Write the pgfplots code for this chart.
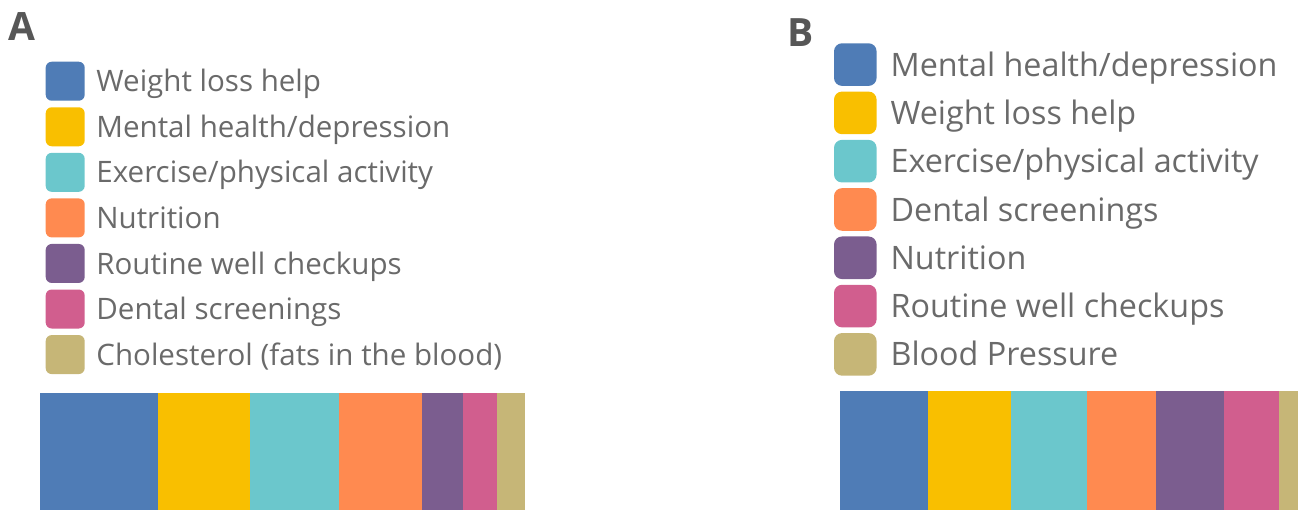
\documentclass[border=0pt]{standalone}
\usepackage{fontspec}
\setmainfont{Open Sans}
\newfontfamily\panelfont{Open Sans}
\usepackage{pgfplots}
\pgfplotsset{compat=1.18}

\definecolor{cBlue}{HTML}{4F7CB6}
\definecolor{cYellow}{HTML}{F9BF00}
\definecolor{cTeal}{HTML}{6BC7CC}
\definecolor{cOrange}{HTML}{FF8A50}
\definecolor{cPurple}{HTML}{7B5D8F}
\definecolor{cPink}{HTML}{D15E8E}
\definecolor{cTan}{HTML}{C6B677}
\definecolor{textgray}{HTML}{6A6A6A}
\definecolor{labelgray}{HTML}{575757}

\pgfplotsset{
  panel/.style={
    xbar stacked, hide axis, scale only axis,
    xmin=0, ymin=-0.5, ymax=0.5, bar width=1,
    legend cell align=left,
    every axis plot/.append style={draw=none},
  },
}

\begin{document}
\begin{tikzpicture}
\useasboundingbox (0,0) rectangle (649pt,255pt);

% panel A
\begin{axis}[panel,
  at={(20pt,0pt)}, anchor=south west,
  width=242.5pt, height=58.5pt, xmax=100.1,
  legend image code/.code={\fill[#1,draw=none,rounded corners=3pt] (0pt,-9.75pt) rectangle (19.5pt,9.75pt);},
  legend style={at={(0.01175,3.8316)}, anchor=north west, draw=none, fill=none,
    inner sep=0pt, outer sep=0pt, row sep=3.28pt, column sep=5.85pt,
    font=\fontsize{14.77pt}{17pt}\selectfont, text=textgray,
    nodes={inner sep=0pt, text height=10.55pt, text depth=0pt}},
]
\addplot[fill=cBlue]   coordinates {(24.3,0)};
\addplot[fill=cYellow] coordinates {(19.1,0)};
\addplot[fill=cTeal]   coordinates {(18.4,0)};
\addplot[fill=cOrange] coordinates {(17.0,0)};
\addplot[fill=cPurple] coordinates {(8.5,0)};
\addplot[fill=cPink]   coordinates {(7.1,0)};
\addplot[fill=cTan]    coordinates {(5.7,0)};
\legend{Weight loss help, Mental health/depression, Exercise/physical activity,
  Nutrition, Routine well checkups, Dental screenings, Cholesterol (fats in the blood)}
\end{axis}

% panel B
\begin{axis}[panel,
  at={(420pt,0pt)}, anchor=south west,
  width=229pt, height=59.5pt, xmax=99.8,
  legend image code/.code={\fill[#1,draw=none,rounded corners=4pt] (0pt,-10.65pt) rectangle (21.3pt,10.65pt);},
  legend style={at={(-0.0131,3.922)}, anchor=north west, draw=none, fill=none,
    inner sep=0pt, outer sep=0pt, row sep=2.85pt, column sep=7pt,
    font=\fontsize{16.15pt}{18.5pt}\selectfont, text=textgray,
    nodes={inner sep=0pt, text height=11.53pt, text depth=0pt}},
]
\addplot[fill=cBlue]   coordinates {(19.2,0)};
\addplot[fill=cYellow] coordinates {(18.1,0)};
\addplot[fill=cTeal]   coordinates {(16.5,0)};
\addplot[fill=cOrange] coordinates {(15.1,0)};
\addplot[fill=cPurple] coordinates {(14.8,0)};
\addplot[fill=cPink]   coordinates {(12.0,0)};
\addplot[fill=cTan]    coordinates {(4.1,0)};
\legend{Mental health/depression, Weight loss help, Exercise/physical activity,
  Dental screenings, Nutrition, Routine well checkups, Blood Pressure}
\end{axis}

\node[anchor=base west, inner sep=0pt, text=labelgray,
  font=\panelfont\bfseries\fontsize{19.5pt}{21pt}\selectfont] at (4.15pt,234.65pt) {A};
\node[anchor=base west, inner sep=0pt, text=labelgray,
  font=\panelfont\bfseries\fontsize{19.5pt}{21pt}\selectfont] at (393.65pt,231.65pt) {B};
\end{tikzpicture}
\end{document}
